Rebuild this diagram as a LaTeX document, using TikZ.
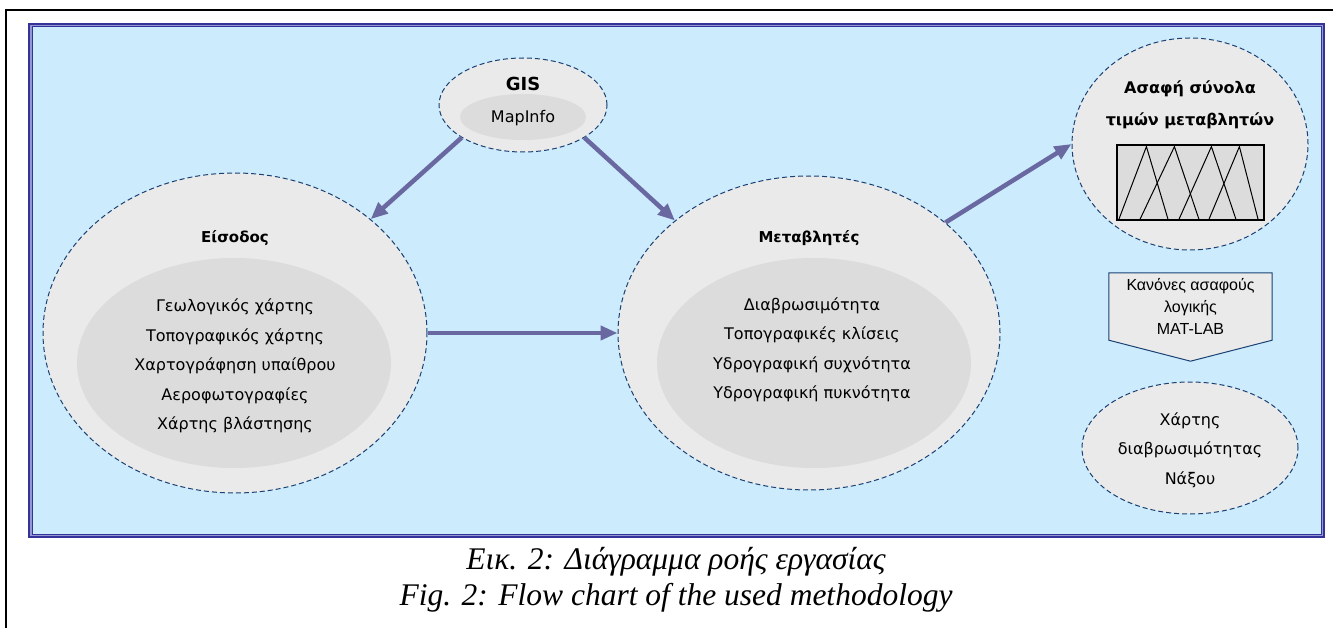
\documentclass[tikz,border=0pt]{standalone}
\usepackage{fontspec}
\setmainfont{DejaVu Sans}
\newfontfamily\capfont{Liberation Serif}
\newfontfamily\rulefont{Liberation Sans}
\usetikzlibrary{shapes.geometric, arrows.meta}

\definecolor{bgblue}{RGB}{204,235,253}
\definecolor{frameblue}{RGB}{51,51,153}
\definecolor{framegap}{RGB}{150,150,210}
\definecolor{dashblue}{RGB}{25,65,115}
\definecolor{outerfill}{RGB}{234,234,234}
\definecolor{innerfill}{RGB}{220,220,220}
\definecolor{flowcol}{RGB}{106,104,160}

\begin{document}
\begin{tikzpicture}[x=1pt, y=-1pt,
    blob/.style={ellipse, draw=dashblue, dash pattern=on 5pt off 3pt, line width=1pt, fill=outerfill, inner sep=0pt},
    core/.style={ellipse, fill=innerfill, inner sep=0pt},
    heading/.style={font=\fontsize{15}{32}\selectfont\bfseries, align=center},
    itemlist/.style={font=\fontsize{16}{29.5}\selectfont, align=center},
    flow/.style={-{Triangle[length=17pt, width=14pt]}, line width=4.5pt, draw=flowcol},
    rulebox/.style={rectangle, fill=outerfill, minimum width=163pt, minimum height=67pt, align=center, font=\rulefont\fontsize{16}{22}\selectfont}
]
\useasboundingbox (0,0) rectangle (1333,628);

% Page frame
\draw[line width=2pt] (6,628) -- (6,10) -- (1333,10);

% Blue panel
\draw[fill=framegap, draw=frameblue, line width=1.5pt] (29,24) rectangle (1324,537);
\draw[fill=bgblue, draw=frameblue, line width=1pt] (32,27) rectangle (1321,534);

% GIS
\node[blob, minimum width=168pt, minimum height=94pt] (gis) at (523,105) {};
\node[core, minimum width=126pt, minimum height=46pt] (giscore) at (523,117) {};
\node[heading, font=\fontsize{18}{32}\selectfont\bfseries] (gistitle) at (523,84) {GIS};
\node[itemlist] (gislist) at (523,118) {MapInfo};

% Input data
\node[blob, minimum width=384pt, minimum height=320pt] (input) at (235,333) {};
\node[core, minimum width=314pt, minimum height=210pt] (inputcore) at (234,363) {};
\node[heading] (inputtitle) at (235,238) {Είσοδος};
\node[itemlist] (inputlist) at (235,366) {Γεωλογικός χάρτης\\Τοπογραφικός χάρτης\\Χαρτογράφηση υπαίθρου\\Αεροφωτογραφίες\\Χάρτης βλάστησης};

% Variables
\node[blob, minimum width=382pt, minimum height=314pt] (vars) at (809,333) {};
\node[core, minimum width=314pt, minimum height=210pt] (varscore) at (814,363) {};
\node[heading] (varstitle) at (809,238) {Μεταβλητές};
\node[itemlist] (varslist) at (812,350) {Διαβρωσιμότητα\\Τοπογραφικές κλίσεις\\Υδρογραφική συχνότητα\\Υδρογραφική πυκνότητα};

% Fuzzy sets
\node[blob, minimum width=236pt, minimum height=212pt] (fuzzy) at (1190,144) {};
\node[heading, font=\fontsize{16}{32}\selectfont\bfseries] (fuzzytitle) at (1190,105) {Ασαφή σύνολα\\τιμών μεταβλητών};
\node[draw, line width=1.2pt, fill=innerfill, minimum width=147pt, minimum height=75pt, inner sep=0pt] (fzbox) at (1190.5,182.5) {};
\begin{scope}[shift={(fzbox.south west)}]
\foreach \a/\b/\c in {2/30/52, 23/58/83, 62/95/120, 92/123/142}
  \draw[line width=1pt] (\a,0) -- (\b,-74) -- (\c,0);
\end{scope}

% Rules
\node[rulebox] (rules) at (1190.5,306.5) {Κανόνες ασαφούς\\λογικής\\MAT-LAB};
\fill[outerfill] (rules.south west) -- ([yshift=-21pt]rules.south) -- (rules.south east) -- cycle;
\draw[dashblue, line width=1pt] (rules.north west) -- (rules.north east) -- (rules.south east) -- ([yshift=-21pt]rules.south) -- (rules.south west) -- cycle;

% Output map
\node[blob, minimum width=216pt, minimum height=132pt] (naxos) at (1190,448) {};
\node[itemlist] (naxoslist) at (1190,450) {Χάρτης\\διαβρωσιμότητας\\Νάξου};

% Arrows
\draw[flow] (gis.208) -- (input.40);
\draw[flow] (gis.332) -- (vars.140);
\draw[flow] (input.east) -- (vars.west);
\draw[flow] (vars.39) -- (fuzzy.west);

% Caption
\node[font=\capfont\itshape\fontsize{31.5}{36}\selectfont, align=center] (caption) at (676,580) {Εικ. 2: Διάγραμμα ροής εργασίας\\Fig. 2: Flow chart of the used methodology};

\end{tikzpicture}
\end{document}
